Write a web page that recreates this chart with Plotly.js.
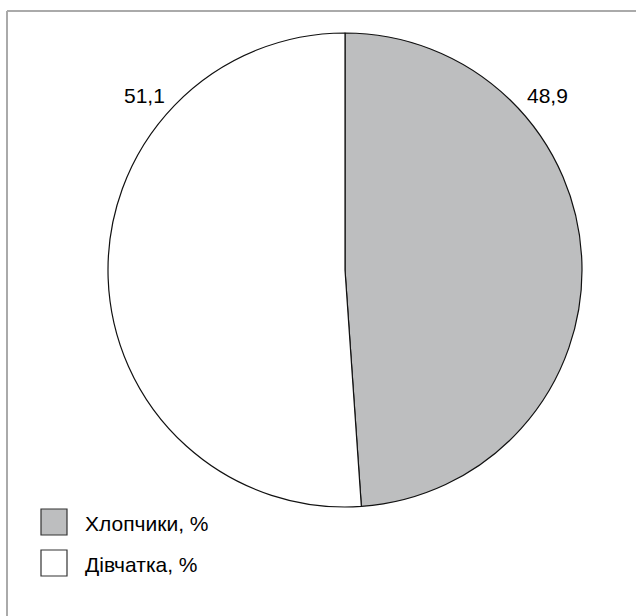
<!DOCTYPE html>
<html>
<head>
<meta charset="utf-8">
<script src="https://cdn.plot.ly/plotly-3.0.1.min.js"></script>
<style>html,body{margin:0;padding:0;background:#fff;}#chart{width:636px;height:616px;}</style>
</head>
<body>
<div id="chart"></div>
<script>
const categories = ['Хлопчики, %', 'Дівчатка, %'];
const values = [48.9, 51.1];
const sliceColors = ['#bdbebf', '#ffffff'];

const fmt = v => v.toFixed(1).replace('.', ',');
const W = 636, H = 616;
const px = x => x / W;
const py = y => 1 - y / H;

const trace = {
  type: 'pie',
  labels: categories,
  values: values,
  sort: false,
  direction: 'clockwise',
  rotation: 0,
  textinfo: 'none',
  hoverinfo: 'label+value',
  showlegend: false,
  marker: { colors: sliceColors, line: { color: '#111', width: 1.2 } },
  domain: { x: [px(108), px(582)], y: [py(507), py(33)] }
};

const valuePos = [[547, 95], [144, 95]];
const annotations = values.map((v, i) => ({
  xref: 'paper', yref: 'paper', x: px(valuePos[i][0]), y: py(valuePos[i][1]),
  text: fmt(v), showarrow: false, xanchor: 'center', yanchor: 'middle',
  font: { family: 'Liberation Sans, Arial, sans-serif', size: 21, color: '#000' }
}));
const legendY = [522, 563];
const shapes = [
  { type: 'line', xref: 'paper', yref: 'paper', x0: px(7), x1: 1, y0: py(11), y1: py(11), line: { color: '#aaaaaa', width: 2 } },
  { type: 'line', xref: 'paper', yref: 'paper', x0: px(7), x1: px(7), y0: py(11), y1: 0, line: { color: '#aaaaaa', width: 2 } }
];
categories.forEach((c, i) => {
  shapes.push({ type: 'rect', xref: 'paper', yref: 'paper',
    x0: px(41), x1: px(67), y0: py(legendY[i] + 13), y1: py(legendY[i] - 13),
    fillcolor: sliceColors[i], line: { color: '#333', width: 1.2 } });
  annotations.push({ xref: 'paper', yref: 'paper', x: px(83), y: py(legendY[i] + 1),
    text: c, showarrow: false, xanchor: 'left', yanchor: 'middle',
    font: { family: 'Liberation Sans, Arial, sans-serif', size: 21, color: '#000' } });
});

const layout = {
  width: W, height: H,
  margin: { l: 0, r: 0, t: 0, b: 0 },
  paper_bgcolor: '#fff', plot_bgcolor: '#fff',
  showlegend: false,
  annotations: annotations,
  shapes: shapes
};
Plotly.newPlot('chart', [trace], layout, { displayModeBar: false, staticPlot: true });
</script>
</body>
</html>
